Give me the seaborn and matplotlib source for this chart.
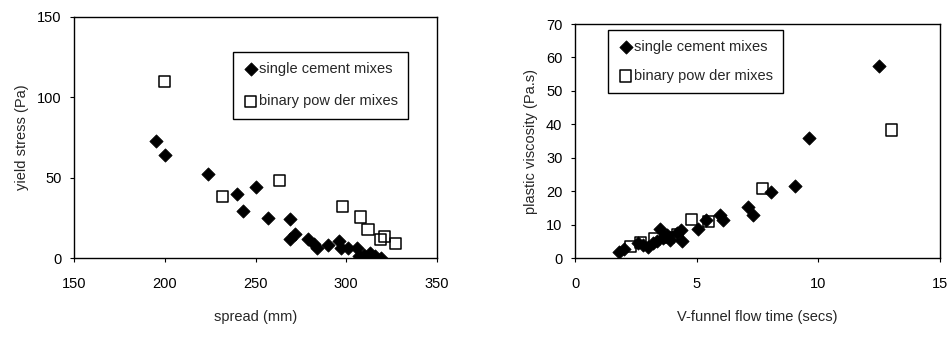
import numpy as np
import pandas as pd
import matplotlib
matplotlib.use("Agg")
import matplotlib.pyplot as plt
import seaborn as sns

# ---- data ----
# left panel: spread (mm) vs yield stress (Pa)
single_spread = [195, 200, 224, 240, 243, 250, 257, 269, 269, 272, 279, 282, 284,
                 290, 296, 297, 301, 306, 307, 310, 313, 316, 319]
single_yield = [73, 64, 52, 40, 29, 44, 25, 24, 12, 15, 12, 9, 6.5,
                8, 10.5, 6, 6, 6, 1, 2, 3, 1, 0]
binary_spread = [200, 232, 263, 298, 308, 312, 319, 321, 327]
binary_yield = [110, 38.5, 48.5, 32, 25.5, 18, 11.5, 13.5, 9]

# right panel: V-funnel flow time (secs) vs plastic viscosity (Pa.s)
single_vf = [1.8, 2.0, 2.6, 2.8, 3.0, 3.2, 3.35, 3.5, 3.6, 3.8, 3.9, 4.2, 4.35, 4.4,
             5.05, 5.4, 5.95, 6.1, 7.1, 7.3, 8.05, 9.05, 9.6, 12.5]
single_pv = [1.8, 2.8, 4.4, 4.0, 3.4, 4.4, 5.0, 8.8, 6.0, 6.9, 5.4, 7.4, 8.5, 5.2,
             8.6, 11.5, 12.9, 11.4, 15.2, 12.9, 19.6, 21.4, 35.8, 57.3]
binary_vf = [2.28, 2.7, 3.25, 3.85, 4.2, 4.8, 5.5, 7.7, 13.0]
binary_pv = [3.4, 4.6, 5.7, 6.2, 6.9, 11.6, 10.9, 20.8, 38.3]

left_xticks = [150, 200, 250, 300, 350]
left_yticks = [0, 50, 100, 150]
right_xticks = [0, 5, 10, 15]
right_yticks = [0, 10, 20, 30, 40, 50, 60, 70]

label_single = "single cement mixes"
label_binary = "binary pow der mixes"

sns.set_style("ticks")
plt.rcParams["font.family"] = ["Liberation Sans", "DejaVu Sans"]
plt.rcParams["font.size"] = 10

W, H = 950, 339
fig = plt.figure(figsize=(W / 100, H / 100), dpi=100)

def px_axes(x0, x1, y0, y1):
    return fig.add_axes([x0 / W, 1 - y1 / H, (x1 - x0) / W, (y1 - y0) / H])

ax1 = px_axes(74, 437, 17, 258)
ax2 = px_axes(575, 940, 24, 258)

diamond_kw = dict(marker="D", color="black", s=46, edgecolor="black", linewidth=0.5)
square_kw = dict(marker="s", s=64, facecolor="none", edgecolor="black", linewidth=1.1)

sns.scatterplot(x=single_spread, y=single_yield, ax=ax1, label=label_single, **diamond_kw)
sns.scatterplot(x=binary_spread, y=binary_yield, ax=ax1, label=label_binary, **square_kw)
sns.scatterplot(x=single_vf, y=single_pv, ax=ax2, label=label_single, **diamond_kw)
sns.scatterplot(x=binary_vf, y=binary_pv, ax=ax2, label=label_binary, **square_kw)

for ax, xt, yt, xl, yl in [
    (ax1, left_xticks, left_yticks, "spread (mm)", "yield stress (Pa)"),
    (ax2, right_xticks, right_yticks, "V-funnel flow time (secs)", "plastic viscosity (Pa.s)"),
]:
    ax.set_xlim(xt[0], xt[-1])
    ax.set_ylim(yt[0], yt[-1])
    ax.set_xticks(xt)
    ax.set_yticks(yt)
    for s in ax.spines.values():
        s.set_visible(True)
        s.set_color("black")
        s.set_linewidth(1.0)
    ax.tick_params(direction="out", length=3, width=0.8, colors="black", labelsize=10.5)
    ax.tick_params(axis="x", pad=11)
    ax.tick_params(axis="y", pad=6)
    ax.set_xlabel(xl, fontsize=10.5, labelpad=13)
    ax.set_ylabel(yl, fontsize=10.5, labelpad=6)

leg_kw = dict(frameon=True, fancybox=False, edgecolor="black", framealpha=1,
              handletextpad=0.1, handlelength=1.0, borderpad=0.7, fontsize=10.5,
              bbox_transform=fig.transFigure, loc="upper left", borderaxespad=0)
l1 = ax1.legend(bbox_to_anchor=(233 / W, 1 - 52 / H), labelspacing=1.25, **leg_kw)
l2 = ax2.legend(bbox_to_anchor=(608 / W, 1 - 30 / H), labelspacing=1.0, **leg_kw)
for l in (l1, l2):
    l.get_frame().set_linewidth(1.0)

fig.savefig("out.png", dpi=100, facecolor="white")
